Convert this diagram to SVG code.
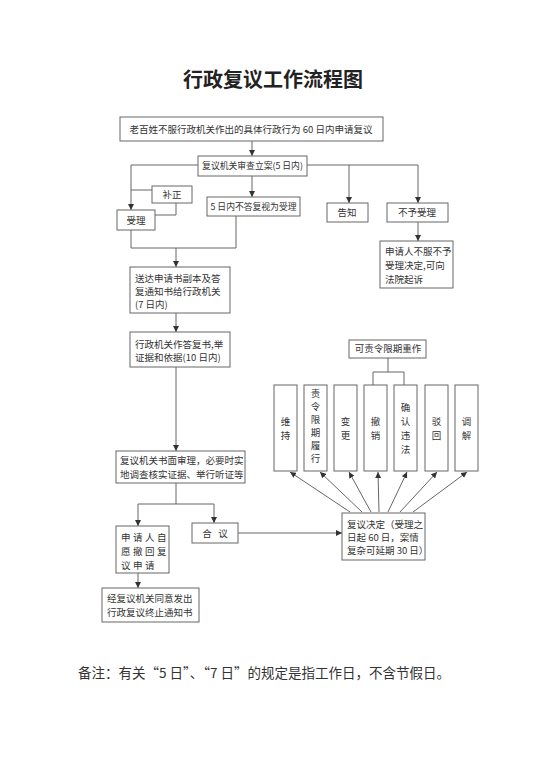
<svg xmlns="http://www.w3.org/2000/svg" width="546" height="763" viewBox="0 0 546 763">
<style>
.b{fill:#fff;stroke:#666;stroke-width:1}
.t{font-family:"Noto Sans CJK SC","Liberation Sans",sans-serif;font-size:9.5px;fill:#333}
.s{font-size:8.8px}
.c{text-anchor:middle}
.l{fill:none;stroke:#666;stroke-width:1}
.title{font-family:"Noto Sans CJK SC",sans-serif;font-size:20px;font-weight:bold;fill:#222;text-anchor:middle}
.note{font-family:"Noto Sans CJK SC","Liberation Serif",serif;font-size:13.5px;fill:#333}
</style>
<defs>
<marker id="a" markerUnits="userSpaceOnUse" markerWidth="6" markerHeight="6" refX="6" refY="3" orient="auto">
<path d="M0,0 L6,3 L0,6 z" fill="#333"/>
</marker>
</defs>
<rect width="546" height="763" fill="#fff"/>
<text class="title" x="273" y="87">行政复议工作流程图</text>

<g id="connectors">
<path class="l" d="M252,141 V156" marker-end="url(#a)"/>
<path class="l" d="M198,165 H131 V210" marker-end="url(#a)"/>
<path class="l" d="M131,190 H152"/>
<path class="l" d="M176,203 V215 H155"/>
<path class="l" d="M252,176 V197" marker-end="url(#a)"/>
<path class="l" d="M307,165 H418 V203" marker-end="url(#a)"/>
<path class="l" d="M349,165 V203" marker-end="url(#a)"/>
<path class="l" d="M418,222 V241" marker-end="url(#a)"/>
<path class="l" d="M131,230 V248 H236 V216"/>
<path class="l" d="M176,248 V267" marker-end="url(#a)"/>
<path class="l" d="M176,313 V332" marker-end="url(#a)"/>
<path class="l" d="M176,367 V451" marker-end="url(#a)"/>
<path class="l" d="M176,483 V504 H138 V526" marker-end="url(#a)"/>
<path class="l" d="M176,504 H214 V523" marker-end="url(#a)"/>
<path class="l" d="M138,573 V588" marker-end="url(#a)"/>
<path class="l" d="M238,533 H342" marker-end="url(#a)"/>
<path class="l" d="M388,358 V372 M373,385 V372 H404 V385"/>
<path class="l" d="M350,512 L290,472" marker-end="url(#a)"/>
<path class="l" d="M362,512 L320,472" marker-end="url(#a)"/>
<path class="l" d="M371,512 L349,472" marker-end="url(#a)"/>
<path class="l" d="M379,512 L378,472" marker-end="url(#a)"/>
<path class="l" d="M388,512 L407,472" marker-end="url(#a)"/>
<path class="l" d="M400,512 L437,472" marker-end="url(#a)"/>
<path class="l" d="M413,512 L467,472" marker-end="url(#a)"/>
</g>

<g id="n1"><rect class="b" x="120" y="117" width="263" height="24"/><text class="t c" x="251" y="133">老百姓不服行政机关作出的具体行政行为 60 日内申请复议</text></g>
<g id="n2"><rect class="b" x="198" y="156" width="109" height="20"/><text class="t s c" x="252.5" y="169">复议机关审查立案(5 日内)</text></g>
<g id="n3"><rect class="b" x="152" y="186" width="40" height="17"/><text class="t c" x="172" y="198">补正</text></g>
<g id="n4"><rect class="b" x="117" y="210" width="38" height="20"/><text class="t c" x="136" y="224">受理</text></g>
<g id="n5"><rect class="b" x="207" y="197" width="93" height="19"/><text class="t s c" x="253.5" y="210">5 日内不答复视为受理</text></g>
<g id="n6"><rect class="b" x="327" y="203" width="41" height="19"/><text class="t c" x="347" y="216">告知</text></g>
<g id="n7"><rect class="b" x="387" y="203" width="61" height="19"/><text class="t c" x="417" y="216">不予受理</text></g>
<g id="n8"><rect class="b" x="380" y="241" width="73" height="47"/><text class="t" x="385" y="255">申请人不服不予</text><text class="t" x="385" y="269">受理决定,可向</text><text class="t" x="385" y="283">法院起诉</text></g>
<g id="n9"><rect class="b" x="130" y="267" width="100" height="46"/><text class="t" x="135" y="282">送达申请书副本及答</text><text class="t" x="135" y="295">复通知书给行政机关</text><text class="t" x="135" y="308">(7 日内)</text></g>
<g id="n10"><rect class="b" x="130" y="332" width="100" height="35"/><text class="t" x="135" y="348">行政机关作答复书,举</text><text class="t" x="135" y="361">证据和依据(10 日内)</text></g>
<g id="n11"><rect class="b" x="116" y="451" width="129" height="32"/><text class="t" x="120" y="464">复议机关书面审理，必要时实</text><text class="t" x="120" y="478">地调查核实证据、举行听证等</text></g>
<g id="n12"><rect class="b" x="116" y="526" width="53" height="47"/><text class="t" x="121" y="541" letter-spacing="2.5">申请人自</text><text class="t" x="121" y="555" letter-spacing="2.5">愿撤回复</text><text class="t" x="121" y="569" letter-spacing="2.5">议申请</text></g>
<g id="n13"><rect class="b" x="192" y="523" width="46" height="20"/><text class="t c" x="215" y="537" xml:space="preserve">合   议</text></g>
<g id="n14"><rect class="b" x="342" y="513" width="83" height="47"/><text class="t" x="347" y="528">复议决定（受理之</text><text class="t" x="347" y="541">日起 60 日，案情</text><text class="t" x="347" y="554">复杂可延期 30 日）</text></g>
<g id="n15"><rect class="b" x="102" y="588" width="97" height="34"/><text class="t" x="107" y="602">经复议机关同意发出</text><text class="t" x="107" y="616">行政复议终止通知书</text></g>
<g id="n16"><rect class="b" x="349" y="340" width="77" height="18"/><text class="t c" x="388" y="352">可责令限期重作</text></g>

<g id="r1"><rect class="b" x="274" y="385" width="23" height="86"/><text class="t c" x="285.5" y="425">维</text><text class="t c" x="285.5" y="439">持</text></g>
<g id="r2"><rect class="b" x="304" y="385" width="23" height="86"/><text class="t c" x="315.5" y="397">责</text><text class="t c" x="315.5" y="410">令</text><text class="t c" x="315.5" y="423">限</text><text class="t c" x="315.5" y="436">期</text><text class="t c" x="315.5" y="449">履</text><text class="t c" x="315.5" y="462">行</text></g>
<g id="r3"><rect class="b" x="334" y="385" width="23" height="86"/><text class="t c" x="345.5" y="425">变</text><text class="t c" x="345.5" y="439">更</text></g>
<g id="r4"><rect class="b" x="364" y="385" width="23" height="86"/><text class="t c" x="375.5" y="425">撤</text><text class="t c" x="375.5" y="439">销</text></g>
<g id="r5"><rect class="b" x="394" y="385" width="23" height="86"/><text class="t c" x="405.5" y="411">确</text><text class="t c" x="405.5" y="425">认</text><text class="t c" x="405.5" y="439">违</text><text class="t c" x="405.5" y="453">法</text></g>
<g id="r6"><rect class="b" x="425" y="385" width="23" height="86"/><text class="t c" x="436.5" y="425">驳</text><text class="t c" x="436.5" y="439">回</text></g>
<g id="r7"><rect class="b" x="455" y="385" width="23" height="86"/><text class="t c" x="466.5" y="425">调</text><text class="t c" x="466.5" y="439">解</text></g>

<text class="note" x="78" y="678">备注：有关“5 日”、“7 日”的规定是指工作日，不含节假日。</text>
</svg>
